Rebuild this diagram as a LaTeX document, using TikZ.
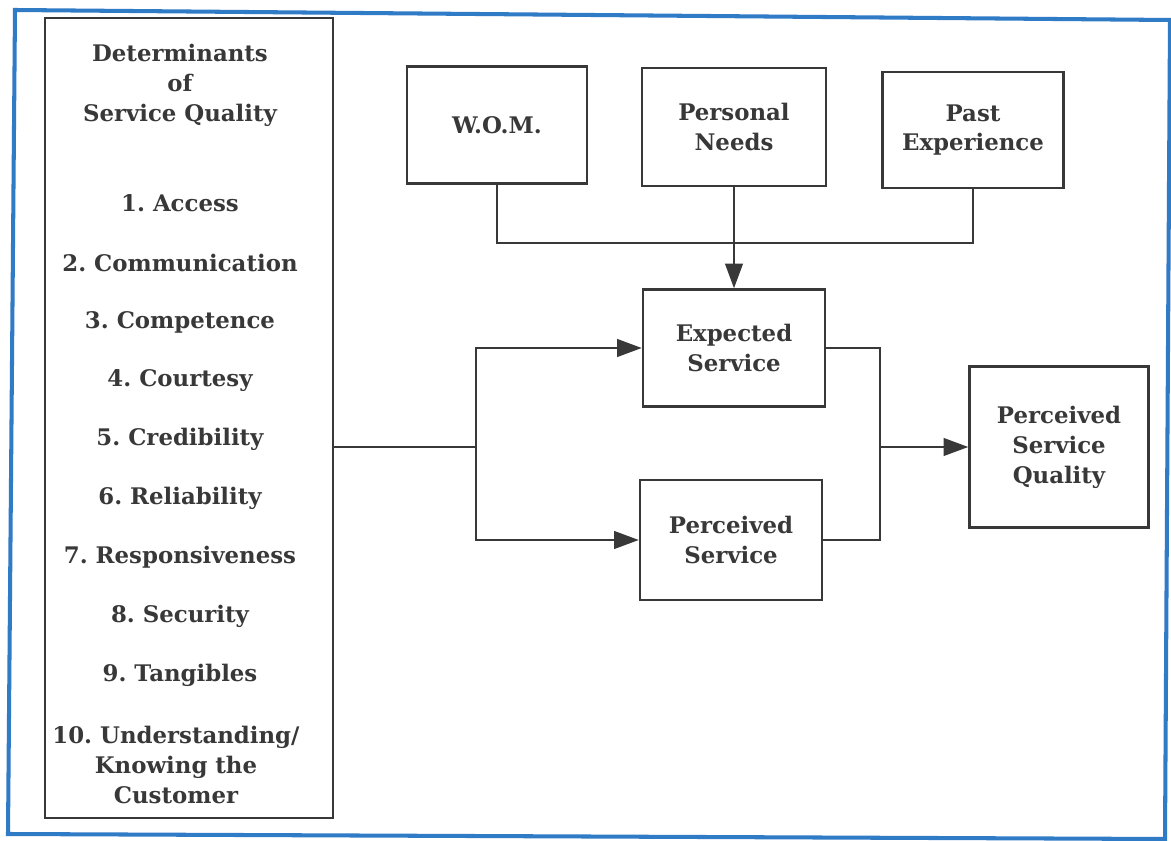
\documentclass[tikz,border=0pt]{standalone}
\usepackage{fontspec}
\setmainfont{DejaVu Serif}
\usetikzlibrary{arrows.meta}
\definecolor{ink}{HTML}{383838}
\definecolor{frameblue}{HTML}{2F7BC6}
\tikzset{
  box/.style={draw=ink, line width=1.4pt, align=center, inner sep=0pt,
    font=\bfseries\fontsize{13}{17}\selectfont, text=ink},
  lbl/.style={font=\bfseries\fontsize{13}{17}\selectfont, text=ink, align=center},
  link/.style={draw=ink, line width=1.3pt},
  arrow/.style={link, -{Triangle[length=14pt,width=10pt]}}
}
\frenchspacing
\begin{document}
\begin{tikzpicture}[x=0.02cm,y=-0.02cm]
  \useasboundingbox (0,0) rectangle (1171,841);
  % scanned blue frame
  \draw[frameblue, line width=2.3pt] (15,10) -- (1170,20) -- (1165,839) -- (8,834) -- cycle;

  % Determinants column
  \node[box, minimum width=5.76cm, minimum height=16cm] (lbox) at (189,418) {};
  \node[lbl] (title) at (180,85) {Determinants\\of\\Service Quality};
  \foreach \y/\txt [count=\i] in {203/1. Access, 263/2. Communication, 322/3. Competence,
      381/4. Courtesy, 439/5. Credibility, 498/6. Reliability, 557/7. Responsiveness,
      616/8. Security, 675/9. Tangibles}
    \node[lbl] (item\i) at (180,\y) {\txt};
  \node[lbl] (item10) at (176,765) {10. Understanding/\\Knowing the\\Customer};

  % Expectation sources
  \node[box, minimum width=3.6cm, minimum height=2.34cm] (wom) at (497,125) {W.O.M.};
  \node[box, minimum width=3.68cm, minimum height=2.36cm] (needs) at (734,127) {Personal\\Needs};
  \node[box, minimum width=3.62cm, minimum height=2.32cm] (past) at (973,130) {Past\\Experience};

  % Service boxes
  \node[box, minimum width=3.64cm, minimum height=2.34cm] (expected) at (734,348) {Expected\\Service};
  \node[box, minimum width=3.64cm, minimum height=2.4cm] (perceived) at (731,540) {Perceived\\Service};
  \node[box, minimum width=3.58cm, minimum height=3.22cm] (psq) at (1059,447) {Perceived\\Service\\Quality};

  % Junction points
  \coordinate (top) at (734,243);
  \coordinate (split) at (476,447);
  \coordinate (merge) at (880,447);

  % Sources into expected service
  \draw[link] (wom.south) -- (wom.south |- top) -- (past.south |- top) -- (past.south);
  \draw[arrow] (needs.south) -- (expected.north);

  % Determinants into both services
  \draw[link] (lbox.east |- split) -- (split);
  \draw[arrow] (split) |- (expected.west);
  \draw[arrow] (split) |- (perceived.west);

  % Gap into perceived quality
  \draw[link] (expected.east) -| (merge) |- (perceived.east);
  \draw[arrow] (merge) -- (psq.west);
\end{tikzpicture}
\end{document}
